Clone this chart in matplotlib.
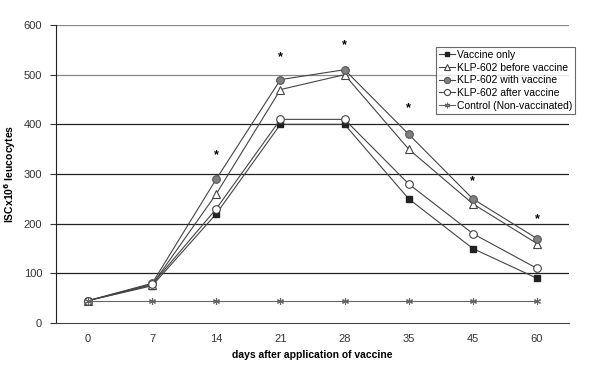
import matplotlib
matplotlib.use('Agg')
import matplotlib.pyplot as plt

#Data
days = ['0', '7', '14', '21', '28', '35', '45', '60']
vaccineOnly = [45, 75, 220, 400, 400, 250, 150, 90]
klpBefore = [45, 77, 260, 470, 500, 350, 240, 160]
klpWith = [45, 80, 290, 490, 510, 380, 250, 170]
klpAfter = [45, 78, 230, 410, 410, 280, 180, 110]
control = [45, 45, 45, 45, 45, 45, 45, 45]
starValues = [None, None, 338, 535, 559, 433, 286, 209]

plt.rcParams['font.family'] = ['Liberation Sans', 'DejaVu Sans']

fig = plt.figure(figsize=(6, 3.67), dpi=100)
ax = fig.add_axes([56 / 600, 1 - 323 / 367, 513 / 600, 298 / 367])

x = list(range(len(days)))
lineColor = '#444444'

#Horizontal grid lines
for yv in range(100, 601, 100):
    gridColor = '#888888' if yv >= 500 else '#222222'
    ax.axhline(yv, color=gridColor, linewidth=0.9, zorder=0)

ax.plot(x, vaccineOnly, color=lineColor, linewidth=0.8, marker='s', markersize=4,
        markerfacecolor='#222222', markeredgecolor='#222222', label='Vaccine only')
ax.plot(x, klpBefore, color=lineColor, linewidth=0.8, marker='^', markersize=5.5,
        markerfacecolor='white', markeredgecolor='#444444', markeredgewidth=0.8,
        label='KLP-602 before vaccine')
ax.plot(x, klpWith, color=lineColor, linewidth=0.8, marker='o', markersize=5.5,
        markerfacecolor='#808080', markeredgecolor='#555555', markeredgewidth=0.8,
        label='KLP-602 with vaccine')
ax.plot(x, klpAfter, color=lineColor, linewidth=0.8, marker='o', markersize=5.5,
        markerfacecolor='white', markeredgecolor='#444444', markeredgewidth=0.8,
        label='KLP-602 after vaccine')
ax.plot(x, control, color='#666666', linewidth=0.8, marker=(6, 2, 0), markersize=5,
        markeredgecolor='#666666', markeredgewidth=0.8, label='Control (Non-vaccinated)')

#Significance stars
for xi, sv in zip(x, starValues):
    if sv is not None:
        ax.text(xi, sv, '*', ha='center', va='center', fontsize=9, fontweight='bold')

ax.set_xlim(-0.5, len(days) - 0.5)
ax.set_ylim(0, 600)
ax.set_xticks(x)
ax.set_xticklabels(days)
ax.set_yticks(range(0, 601, 100))
ax.tick_params(axis='x', length=0, labelsize=8, colors='#333333', pad=8)
ax.tick_params(axis='y', length=4, labelsize=8, colors='#333333', direction='out', pad=6)
for side in ['top', 'right']:
    ax.spines[side].set_visible(False)
ax.spines['left'].set_color('#222222')
ax.spines['bottom'].set_color('#444444')

ax.set_xlabel('days after application of vaccine', fontsize=7.5, fontweight='bold', labelpad=4)
ax.set_ylabel(r'ISCx10$^{\mathbf{6}}$ leucocytes', fontsize=7.5, fontweight='bold')
ax.yaxis.set_label_coords(-38 / 513, 0.5)

leg = ax.legend(loc='upper left', bbox_to_anchor=(380 / 513, 276 / 298), fontsize=7.5,
                frameon=True, fancybox=False, borderpad=0.3, labelspacing=0.25,
                handlelength=1.5, handletextpad=0.2, borderaxespad=0, markerscale=0.8)
leg.get_frame().set_edgecolor('#444444')
leg.get_frame().set_linewidth(0.8)

fig.savefig('out.png', dpi=100)
